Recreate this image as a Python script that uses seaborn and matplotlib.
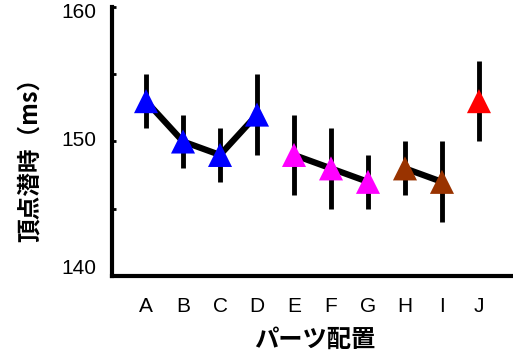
import matplotlib
matplotlib.use("Agg")
import matplotlib.pyplot as plt
from matplotlib.transforms import ScaledTranslation
import seaborn as sns
import pandas as pd
import numpy as np

categories = ["A", "B", "C", "D", "E", "F", "G", "H", "I", "J"]
latency = [153, 150, 149, 152, 149, 148, 147, 148, 147, 153]
err = [2, 2, 2, 3, 3, 3, 2, 2, 3, 3]
group = ["g1", "g1", "g1", "g1", "g2", "g2", "g2", "g3", "g3", "g4"]
group_colors = {"g1": "#0000FF", "g2": "#FF00FF", "g3": "#993300", "g4": "#FF0000"}
ytick_values = [140, 150, 160]
ytick_minor = [145, 155]

sns.set_theme(style="white")
plt.rcParams["font.family"] = ["Liberation Sans", "Noto Sans CJK JP", "DejaVu Sans"]
plt.rcParams["text.color"] = "black"
plt.rcParams["xtick.color"] = "black"
plt.rcParams["ytick.color"] = "black"
plt.rcParams["xtick.labelcolor"] = "black"
plt.rcParams["ytick.labelcolor"] = "black"

df = pd.DataFrame({"cat": categories, "x": np.arange(len(categories)),
                   "y": latency, "err": err, "group": group})

fig = plt.figure(figsize=(5.13, 3.56), dpi=100)
ax = fig.add_axes([112 / 513, 1 - 276 / 356, 1 - 112 / 513, (276 - 7) / 356])

# connecting lines within each group
sns.lineplot(data=df[df.group != "g4"], x="x", y="y", units="group", estimator=None,
             color="black", linewidth=4.5, ax=ax, legend=False, zorder=2)
# error bars
ax.errorbar(df["x"], df["y"], yerr=df["err"], fmt="none", ecolor="black",
            elinewidth=3.5, capsize=0, zorder=1)
# markers
sns.scatterplot(data=df, x="x", y="y", hue="group", palette=group_colors, marker="^",
                s=300, linewidth=0, ax=ax, legend=False, zorder=3)

ax.set_xlim(-0.92, 9.92)
ax.set_ylim(140, 160)
ax.set_xticks(df["x"])
ax.set_xticklabels(categories, fontsize=15, color="black")
ax.set_yticks(ytick_values)
ax.set_yticklabels([str(v) for v in ytick_values], fontsize=15, color="black")
ax.set_yticks(ytick_minor, minor=True)
ax.tick_params(axis="y", which="both", direction="in", length=3, width=2, color="black",
               left=True, pad=11)
ax.tick_params(axis="x", length=0, pad=15)
ax.set_xlabel("")
ax.set_ylabel("")

for lbl, dy in zip(ax.get_yticklabels(), [9.0, 3.0, -3.5]):
    lbl.set_transform(lbl.get_transform() + ScaledTranslation(0, dy / 100, fig.dpi_scale_trans))

for s in ["top", "right"]:
    ax.spines[s].set_visible(False)
for s in ["left", "bottom"]:
    ax.spines[s].set_color("black")
    ax.spines[s].set_linewidth(3)

fig.text(30 / 513, 1 - 154 / 356, "頂点潜時（ms）", rotation=90, ha="center", va="center",
         fontsize=17, fontweight="bold", color="black",
         family=["Noto Sans CJK JP", "DejaVu Sans"])
fig.text(315 / 513, 1 - 340 / 356, "パーツ配置", ha="center", va="center",
         fontsize=17.5, fontweight="bold", color="black",
         family=["Noto Sans CJK JP", "DejaVu Sans"])

fig.savefig("out.png", dpi=100)
